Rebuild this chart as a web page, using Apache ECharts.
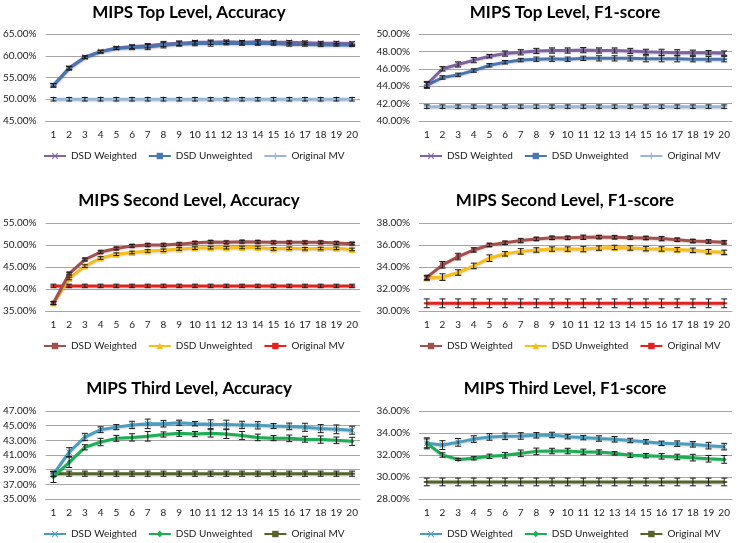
<!DOCTYPE html>
<html><head><meta charset="utf-8">
<script src="https://cdn.jsdelivr.net/npm/echarts@6/dist/echarts.min.js"></script>
<style>html,body{margin:0;padding:0;background:#fff}#c{width:739px;height:543px}</style>
</head><body><div id="c"></div>
<script>
const categories = ['1','2','3','4','5','6','7','8','9','10','11','12','13','14','15','16','17','18','19','20'];
const legendNames = ['DSD Weighted','DSD Unweighted','Original MV'];
const titles = ['MIPS Top Level, Accuracy','MIPS Top Level, F1-score','MIPS Second Level, Accuracy','MIPS Second Level, F1-score','MIPS Third Level, Accuracy','MIPS Third Level, F1-score'];
const yMin = [45, 40, 35, 30, 35, 28];
const yMax = [65, 50, 55, 38, 47, 36];
const yStep = [5, 2, 5, 2, 2, 2];

// Panel 1: Top Level, Accuracy
const topAccW = [53.2,57.2,59.7,61.0,61.8,62.1,62.3,62.7,62.9,63.1,63.1,63.2,63.1,63.2,63.1,63.1,63.0,62.9,62.9,62.8];
const topAccU = [53.2,57.1,59.6,60.9,61.7,61.9,62.0,62.4,62.7,62.8,62.8,62.9,62.8,62.9,62.8,62.6,62.6,62.5,62.5,62.4];
const topAccMV = [50.0,50.0,50.0,50.0,50.0,50.0,50.0,50.0,50.0,50.0,50.0,50.0,50.0,50.0,50.0,50.0,50.0,50.0,50.0,50.0];
const topAccWErr = [0.4,0.4,0.3,0.3,0.3,0.4,0.5,0.6,0.5,0.4,0.5,0.4,0.4,0.5,0.4,0.4,0.4,0.4,0.4,0.4];
const topAccUErr = [0.4,0.4,0.3,0.3,0.3,0.5,0.6,0.6,0.5,0.5,0.6,0.4,0.4,0.5,0.4,0.4,0.4,0.4,0.3,0.3];
const topAccMVErr = [0.4,0.4,0.4,0.4,0.4,0.4,0.4,0.4,0.4,0.4,0.4,0.4,0.4,0.4,0.4,0.4,0.4,0.4,0.4,0.4];

// Panel 2: Top Level, F1-score
const topF1W = [44.2,46.0,46.5,47.0,47.45,47.75,47.9,48.05,48.1,48.1,48.15,48.1,48.1,48.05,47.95,47.9,47.85,47.85,47.85,47.8];
const topF1U = [44.1,45.0,45.3,45.8,46.4,46.75,47.0,47.1,47.15,47.1,47.2,47.2,47.2,47.2,47.15,47.15,47.15,47.1,47.1,47.1];
const topF1MV = [41.65,41.65,41.65,41.65,41.65,41.65,41.65,41.65,41.65,41.65,41.65,41.65,41.65,41.65,41.65,41.65,41.65,41.65,41.65,41.65];
const topF1WErr = [0.35,0.25,0.3,0.3,0.2,0.3,0.3,0.3,0.3,0.3,0.3,0.3,0.3,0.3,0.3,0.35,0.35,0.3,0.25,0.25];
const topF1UErr = [0.35,0.2,0.2,0.2,0.2,0.2,0.2,0.25,0.3,0.25,0.25,0.3,0.3,0.3,0.35,0.35,0.35,0.3,0.3,0.3];
const topF1MVErr = [0.2,0.2,0.2,0.2,0.2,0.2,0.2,0.2,0.2,0.2,0.2,0.2,0.2,0.2,0.2,0.2,0.2,0.2,0.2,0.2];

// Panel 3: Second Level, Accuracy
const secAccW = [36.8,43.5,46.7,48.4,49.2,49.8,50.0,50.0,50.2,50.5,50.7,50.6,50.75,50.7,50.6,50.6,50.6,50.6,50.45,50.3];
const secAccU = [36.8,42.4,45.2,47.05,47.9,48.3,48.65,48.8,49.1,49.3,49.4,49.4,49.45,49.45,49.1,49.25,49.15,49.2,49.25,49.0];
const secAccMV = [40.7,40.7,40.7,40.7,40.7,40.7,40.7,40.7,40.7,40.7,40.7,40.7,40.7,40.7,40.7,40.7,40.7,40.7,40.7,40.7];
const secAccWErr = [0.3,0.3,0.3,0.3,0.3,0.3,0.3,0.3,0.3,0.3,0.3,0.3,0.3,0.3,0.3,0.3,0.3,0.3,0.3,0.3];
const secAccUErr = [0.3,0.3,0.3,0.3,0.3,0.3,0.3,0.3,0.3,0.3,0.3,0.3,0.3,0.3,0.3,0.3,0.3,0.3,0.3,0.3];
const secAccMVErr = [0.4,0.4,0.4,0.4,0.4,0.4,0.4,0.4,0.4,0.4,0.4,0.4,0.4,0.4,0.4,0.4,0.4,0.4,0.4,0.4];

// Panel 4: Second Level, F1-score
const secF1W = [33.05,34.2,34.95,35.55,36.0,36.2,36.4,36.55,36.65,36.65,36.7,36.72,36.7,36.67,36.64,36.58,36.48,36.36,36.32,36.24];
const secF1U = [33.0,33.08,33.5,34.1,34.8,35.2,35.42,35.55,35.63,35.63,35.63,35.72,35.78,35.73,35.67,35.64,35.58,35.52,35.4,35.33];
const secF1MV = [30.7,30.7,30.7,30.7,30.7,30.7,30.7,30.7,30.7,30.7,30.7,30.7,30.7,30.7,30.7,30.7,30.7,30.7,30.7,30.7];
const secF1WErr = [0.2,0.3,0.3,0.2,0.15,0.15,0.2,0.15,0.15,0.15,0.2,0.15,0.15,0.15,0.15,0.2,0.15,0.15,0.15,0.15];
const secF1UErr = [0.2,0.3,0.25,0.25,0.3,0.2,0.25,0.2,0.2,0.2,0.25,0.2,0.2,0.2,0.2,0.2,0.2,0.2,0.2,0.2];
const secF1MVErr = [0.4,0.4,0.4,0.4,0.4,0.4,0.4,0.4,0.4,0.4,0.4,0.4,0.4,0.4,0.4,0.4,0.4,0.4,0.4,0.4];

// Panel 5: Third Level, Accuracy
const thrAccW = [38.4,41.4,43.45,44.45,44.8,45.1,45.25,45.27,45.4,45.27,45.2,45.15,45.1,45.05,44.95,44.9,44.78,44.6,44.5,44.38];
const thrAccU = [38.0,40.0,42.05,42.77,43.27,43.4,43.55,43.8,43.95,43.85,43.95,43.85,43.65,43.4,43.3,43.27,43.15,43.1,43.0,42.86];
const thrAccMV = [38.45,38.45,38.45,38.45,38.45,38.45,38.45,38.45,38.45,38.45,38.45,38.45,38.45,38.45,38.45,38.45,38.45,38.45,38.45,38.45];
const thrAccWErr = [0.3,0.6,0.5,0.4,0.35,0.5,0.65,0.45,0.35,0.3,0.6,0.6,0.5,0.5,0.35,0.45,0.55,0.55,0.6,0.55];
const thrAccUErr = [0.75,0.7,0.35,0.5,0.4,0.5,0.65,0.35,0.4,0.35,0.5,0.6,0.55,0.45,0.35,0.45,0.4,0.5,0.45,0.55];
const thrAccMVErr = [0.35,0.35,0.35,0.35,0.35,0.35,0.35,0.35,0.35,0.35,0.35,0.35,0.35,0.35,0.35,0.35,0.35,0.35,0.35,0.35];

// Panel 6: Third Level, F1-score
const thrF1W = [33.06,32.9,33.15,33.45,33.64,33.7,33.73,33.79,33.82,33.67,33.58,33.5,33.43,33.32,33.2,33.06,33.03,32.97,32.85,32.76];
const thrF1U = [33.06,32.0,31.6,31.7,31.88,31.97,32.15,32.33,32.36,32.36,32.28,32.27,32.15,31.98,31.94,31.88,31.82,31.76,31.66,31.6];
const thrF1MV = [29.55,29.55,29.55,29.55,29.55,29.55,29.55,29.55,29.55,29.55,29.55,29.55,29.55,29.55,29.55,29.55,29.55,29.55,29.55,29.55];
const thrF1WErr = [0.5,0.4,0.35,0.3,0.3,0.3,0.3,0.25,0.25,0.2,0.2,0.25,0.25,0.2,0.2,0.2,0.25,0.25,0.3,0.3];
const thrF1UErr = [0.4,0.2,0.1,0.15,0.2,0.25,0.3,0.3,0.25,0.25,0.25,0.2,0.15,0.2,0.2,0.25,0.25,0.3,0.3,0.35];
const thrF1MVErr = [0.35,0.35,0.35,0.35,0.35,0.35,0.35,0.35,0.35,0.35,0.35,0.35,0.35,0.35,0.35,0.35,0.35,0.35,0.35,0.35];

const panelSeries = [
  [[topAccW, topAccWErr],[topAccU, topAccUErr],[topAccMV, topAccMVErr]],
  [[topF1W, topF1WErr],[topF1U, topF1UErr],[topF1MV, topF1MVErr]],
  [[secAccW, secAccWErr],[secAccU, secAccUErr],[secAccMV, secAccMVErr]],
  [[secF1W, secF1WErr],[secF1U, secF1UErr],[secF1MV, secF1MVErr]],
  [[thrAccW, thrAccWErr],[thrAccU, thrAccUErr],[thrAccMV, thrAccMVErr]],
  [[thrF1W, thrF1WErr],[thrF1U, thrF1UErr],[thrF1MV, thrF1MVErr]]
];

const FONT = 'Lato';
const CROSS = 'path://M0,1L1,0L5,4L9,0L10,1L6,5L10,9L9,10L5,6L1,10L0,9L4,5Z';
const PLUS = 'path://M4,0H6V4H10V6H6V10H4V6H0V4H4Z';
const DASH = 'path://M0,0H10V3H0Z';
const styles = [
  [{c:'#7F63A1', s:CROSS, z:5},{c:'#4A76B0', s:DASH, z:6},{c:'#9AB6D9', s:PLUS, z:6}],
  [{c:'#7F63A1', s:CROSS, z:6},{c:'#4A76B0', s:DASH, z:5},{c:'#9AB6D9', s:PLUS, z:6}],
  [{c:'#A0504D', s:'rect', z:6},{c:'#F7BE1A', s:'triangle', z:5},{c:'#E4211C', s:DASH, z:4}],
  [{c:'#A0504D', s:'rect', z:6},{c:'#F7BE1A', s:'triangle', z:5},{c:'#E4211C', s:DASH, z:4}],
  [{c:'#4B9DBF', s:CROSS, z:5},{c:'#1BAE55', s:'diamond', z:5},{c:'#55642A', s:DASH, z:4}],
  [{c:'#4B9DBF', s:CROSS, z:5},{c:'#1BAE55', s:'diamond', z:5},{c:'#55642A', s:DASH, z:4}]
];
const symSizes = [[6,[6,2],6],[6,[6,2],6],[5,7,[6,2]],[5,7,[6,2]],[6,5,[6,2]],[6,5,[6,2]]];

const colLeft = [43, 419];
const colRight = [739-360, 739-732];
const rowTop = [34, 223, 411];
const rowH = [87, 88, 88];
const titleTop = [-1, 187, 375];
const legendTop = [151, 341, 529];
const colCenter = [184, 560];

function renderErr(params, api) {
  const x = api.value(0);
  const lo = api.coord([x, api.value(1)]);
  const hi = api.coord([x, api.value(2)]);
  const w = 3;
  const st = {stroke:'#1a1a1a', lineWidth:1};
  return {type:'group', children:[
    {type:'line', shape:{x1:lo[0], y1:lo[1], x2:hi[0], y2:hi[1]}, style:st},
    {type:'line', shape:{x1:lo[0]-w, y1:lo[1], x2:lo[0]+w, y2:lo[1]}, style:st},
    {type:'line', shape:{x1:hi[0]-w, y1:hi[1], x2:hi[0]+w, y2:hi[1]}, style:st}
  ]};
}

const option = {animation:false, backgroundColor:'#fff', title:[], grid:[], xAxis:[], yAxis:[], legend:[], series:[]};
for (let p = 0; p < 6; p++) {
  const col = p % 2, row = Math.floor(p / 2);
  option.title.push({text:titles[p], left:colCenter[col], top:titleTop[row], textAlign:'center',
    textStyle:{fontFamily:FONT, fontWeight:'bold', fontSize:17, color:'#000'}});
  option.grid.push({left:colLeft[col], right:colRight[col], top:rowTop[row], height:rowH[row]});
  option.xAxis.push({type:'category', gridIndex:p, data:categories, boundaryGap:true,
    axisLine:{show:true, lineStyle:{color:'#A6A6A6'}}, axisTick:{show:false},
    axisLabel:{fontFamily:FONT, fontSize:10, color:'#222', margin:9, interval:0}});
  option.yAxis.push({type:'value', gridIndex:p, min:yMin[p], max:yMax[p], interval:yStep[p],
    axisLine:{show:false}, axisTick:{show:false},
    splitLine:{lineStyle:{color:'#A6A6A6'}},
    axisLabel:{fontFamily:FONT, fontSize:10, color:'#222', margin:9, formatter:v => v.toFixed(2) + '%'}});
  const names = legendNames.map(n => n + '|' + p);
  option.legend.push({data:names, left:colLeft[col], top:legendTop[row], width:330, padding:0,
    itemWidth:22, itemHeight:8, itemGap:11,
    formatter:n => n.split('|')[0], textStyle:{fontFamily:FONT, fontSize:10, color:'#222'}, selectedMode:false});
  for (let s = 0; s < 3; s++) {
    const st = styles[p][s];
    const vals = panelSeries[p][s][0], errs = panelSeries[p][s][1];
    option.series.push({type:'line', name:names[s], xAxisIndex:p, yAxisIndex:p, data:vals,
      symbol:st.s, symbolSize:symSizes[p][s], showSymbol:true, z:st.z,
      lineStyle:{color:st.c, width:3, shadowColor:'rgba(0,0,0,0.18)', shadowBlur:2, shadowOffsetY:1},
      itemStyle:{color:st.c}});
    option.series.push({type:'custom', name:'err' + p + s, xAxisIndex:p, yAxisIndex:p, z:10,
      renderItem:renderErr, encode:{x:0, y:[1,2]},
      data:vals.map((v, i) => [i, v - errs[i], v + errs[i]])});
  }
}
const chart = echarts.init(document.getElementById('c'), null, {renderer:'canvas'});
chart.setOption(option);
</script></body></html>
